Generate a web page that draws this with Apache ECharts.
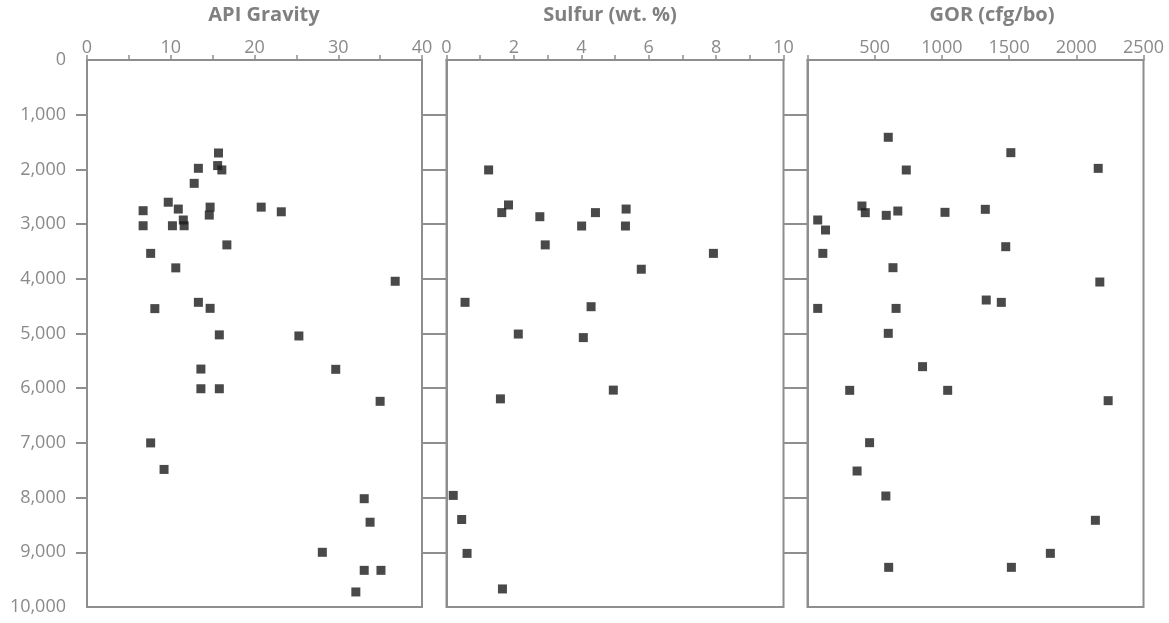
<!DOCTYPE html>
<html>
<head>
<meta charset="utf-8">
<script src="https://cdn.jsdelivr.net/npm/echarts@6/dist/echarts.min.js"></script>
<style>html,body{margin:0;padding:0;background:#fff}#c{width:1169px;height:623px}</style>
</head>
<body>
<div id="c"></div>
<script>
// [value, depth]
const apiGravity = [[15.7,1700],[13.3,1980],[15.6,1930],[16.1,2010],[12.8,2255],[9.7,2600],[6.7,2755],[10.9,2725],[14.7,2690],[14.6,2835],[20.8,2690],[23.2,2775],[6.7,3030],[10.2,3030],[11.5,2925],[11.6,3030],[16.7,3380],[7.6,3535],[10.6,3800],[36.8,4045],[13.3,4430],[8.1,4545],[14.7,4540],[15.8,5025],[25.3,5045],[13.6,5650],[29.7,5655],[13.6,6010],[15.8,6010],[35.0,6240],[7.6,7000],[9.2,7485],[33.1,8020],[33.8,8450],[28.1,9000],[33.1,9330],[35.1,9330],[32.1,9725]];
const sulfur = [[1.25,2010],[1.84,2650],[1.64,2790],[2.77,2865],[4.42,2790],[5.33,2725],[4.01,3035],[5.31,3035],[2.93,3380],[7.92,3535],[5.78,3825],[0.55,4430],[4.29,4510],[2.13,5010],[4.06,5075],[4.95,6035],[1.6,6195],[0.2,7960],[0.45,8400],[0.61,9020],[1.66,9670]];
const gor = [[601,1413],[1513,1694],[2163,1981],[735,2011],[405,2669],[430,2791],[586,2840],[672,2761],[1023,2785],[1323,2730],[76,2925],[134,3108],[1475,3413],[114,3535],[636,3797],[2175,4059],[1330,4388],[1442,4431],[76,4541],[659,4541],[601,4997],[856,5606],[314,6039],[1043,6039],[2237,6228],[462,6996],[369,7514],[583,7971],[2142,8415],[1807,9019],[604,9275],[1517,9275]];
const panelTitles = ['API Gravity', 'Sulfur (wt. %)', 'GOR (cfg/bo)'];
const xRanges = [[0,40,5,10],[0,10,1,2],[0,2500,500,500]]; // min, max, tick step, label step
const depthTicks = [1000,2000,3000,4000,5000,6000,7000,8000,9000];
const depthLabels = [0,1000,2000,3000,4000,5000,6000,7000,8000,9000,10000];

const GRAY = '#8e8e8e';
const FONT = 'Open Sans';
const grids = [
  {left: 87, top: 60, width: 335, height: 547},
  {left: 446.5, top: 60, width: 337, height: 547},
  {left: 807.5, top: 60, width: 336, height: 547}
];
const titleX = [264, 610, 992];

function fmtDepth(v){ return String(v).replace(/\B(?=(\d{3})+(?!\d))/g, ','); }

const option = {
  backgroundColor: '#fff',
  animation: false,
  title: panelTitles.map((t, i) => ({
    text: t, left: titleX[i], top: 5, padding: 0, textAlign: 'center',
    textStyle: {fontFamily: FONT, fontSize: 20, fontWeight: 'bold', color: '#808080'}
  })),
  grid: grids.map(g => Object.assign({show: true, borderColor: GRAY, borderWidth: 2, backgroundColor: 'transparent'}, g)),
  xAxis: xRanges.map((r, i) => ({
    type: 'value', gridIndex: i, position: 'top', min: r[0], max: r[1], interval: r[2],
    axisLine: {show: true, lineStyle: {color: GRAY, width: 2}},
    axisTick: {show: true, length: 5, lineStyle: {color: GRAY, width: 1.5}},
    splitLine: {show: false},
    axisLabel: {
      margin: 3, color: '#8a8a8a', fontFamily: FONT, fontSize: 18,
      formatter: v => (v % r[3] === 0 && !(i === 2 && v === 0)) ? String(v) : ''
    }
  })),
  yAxis: [0,1,2].map(i => ({
    type: 'value', gridIndex: i, inverse: true, min: 0, max: 10000, interval: 1000,
    axisLine: {show: true, lineStyle: {color: GRAY, width: 2}},
    axisTick: {show: true, length: i === 0 ? 11 : 24, customValues: depthTicks, lineStyle: {color: GRAY, width: 2}},
    splitLine: {show: false},
    axisLabel: {
      show: i === 0, margin: 21, customValues: depthLabels, color: '#8a8a8a', fontFamily: FONT, fontSize: 18,
      formatter: v => fmtDepth(v)
    }
  })),
  series: [apiGravity, sulfur, gor].map((d, i) => ({
    type: 'scatter', xAxisIndex: i, yAxisIndex: i, data: d,
    symbol: 'rect', symbolSize: 9, itemStyle: {color: '#1c1c1c'}, silent: true
  }))
};
echarts.init(document.getElementById('c'), null, {renderer: 'canvas'}).setOption(option);
</script>
</body>
</html>
